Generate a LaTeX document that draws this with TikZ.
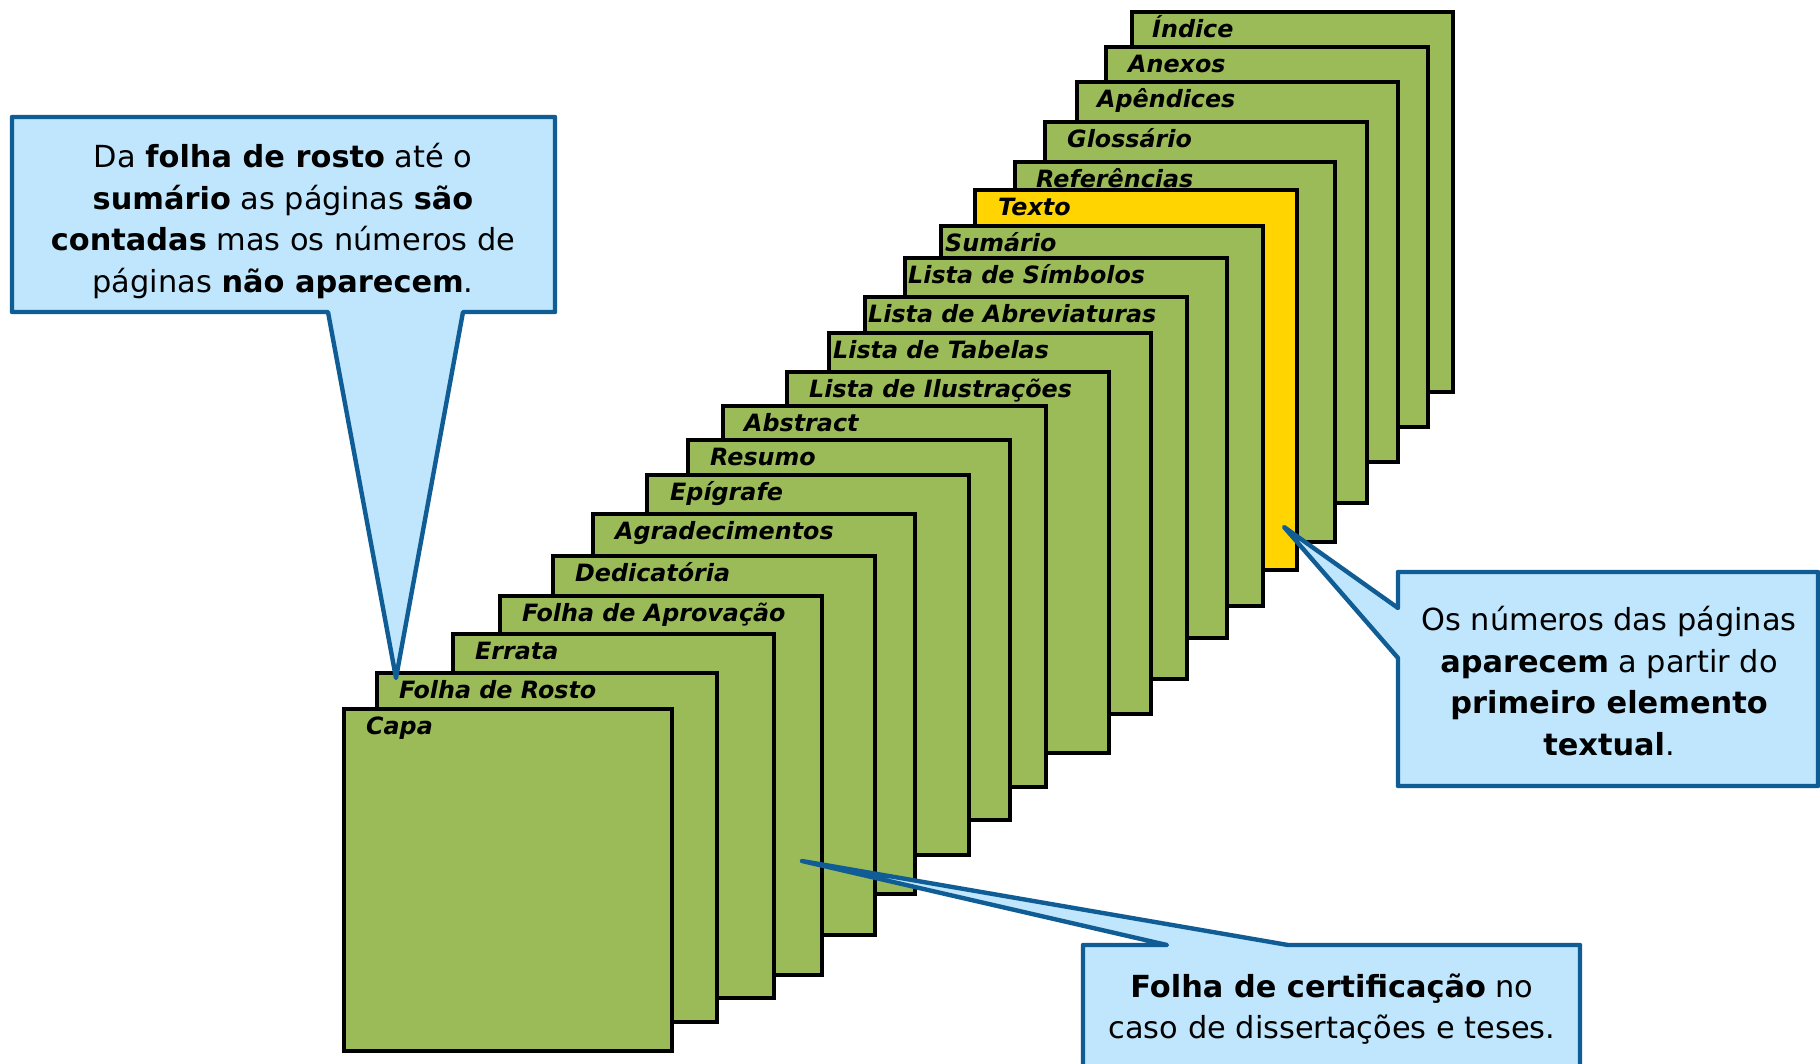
\documentclass[tikz,border=0pt]{standalone}
\usepackage{fontspec}
\setmainfont{DejaVu Sans}[BoldItalicFont={DejaVu Sans Bold Oblique}]
\definecolor{pggreen}{HTML}{9BBB59}
\definecolor{pgyellow}{HTML}{FFD400}
\definecolor{cofill}{HTML}{BFE6FC}
\definecolor{coline}{HTML}{105C94}
\tikzset{
  page/.style={rectangle, draw=black, line width=4.8pt, inner sep=0pt, outer sep=0pt},
  lbl/.style={font=\bfseries\itshape\fontsize{23.8}{28}\selectfont, inner sep=0pt, anchor=base west},
  callout/.style={draw=coline, fill=cofill, line width=4.4pt, line join=round},
  ctext/.style={font=\fontsize{30.4}{41.5}\selectfont, align=center, inner sep=0pt},
}
% #1 name, #2 L, #3 T, #4 R, #5 B, #6 label offset, #7 label, #8 fill
\newcommand\pg[8]{%
  \node[page, fill=#8, minimum width={(#4-#2)*1pt}, minimum height={(#5-#3)*1pt}]
    (#1) at ({(#2+#4)/2},{(#3+#5)/2}) {};
  \node[lbl] (#1-l) at ({#2+#6},{#3+25}) {#7};
}
\begin{document}
\begin{tikzpicture}[x=1pt,y=-1pt]
\useasboundingbox (0,0) rectangle (1820,1063);
\fill[white] (0,0) rectangle (1820,1063);
% pages, back to front
\pg{indice}{1132}{12}{1453}{392}{20}{Índice}{pggreen}
\pg{anexos}{1106}{47}{1428}{427}{22}{Anexos}{pggreen}
\pg{apend}{1077}{82}{1398}{462}{20}{Apêndices}{pggreen}
\pg{gloss}{1045}{122}{1367}{503}{22}{Glossário}{pggreen}
\pg{refer}{1015}{162}{1335}{542}{21}{Referências}{pggreen}
\pg{texto}{975}{190}{1297}{570}{23}{Texto}{pgyellow}
\pg{sumario}{941}{226}{1263}{606}{4}{Sumário}{pggreen}
\pg{simb}{905}{258}{1227}{638}{3}{Lista de Símbolos}{pggreen}
\pg{abrev}{865}{297}{1187}{679}{3}{Lista de Abreviaturas}{pggreen}
\pg{tabelas}{829}{333}{1151}{714}{4}{Lista de Tabelas}{pggreen}
\pg{ilustr}{787}{372}{1109}{753}{22}{Lista de Ilustrações}{pggreen}
\pg{abstr}{723}{406}{1046}{787}{21}{Abstract}{pggreen}
\pg{resumo}{688}{440}{1010}{820}{22}{Resumo}{pggreen}
\pg{epigr}{647}{475}{969}{855}{23}{Epígrafe}{pggreen}
\pg{agrad}{593}{514}{915}{894}{22}{Agradecimentos}{pggreen}
\pg{dedic}{553}{556}{875}{935}{22}{Dedicatória}{pggreen}
\pg{aprov}{500}{596}{822}{975}{22}{Folha de Aprovação}{pggreen}
\pg{errata}{453}{634}{774}{998}{22}{Errata}{pggreen}
\pg{rosto}{377}{673}{717}{1022}{22}{Folha de Rosto}{pggreen}
\pg{capa}{344}{709}{672}{1051}{22}{Capa}{pggreen}
% pointer tips
\coordinate (tipL) at (396,678);
\coordinate (tipR) at (1284,527);
\coordinate (tipB) at (802,861);
% left callout
\draw[callout] (12,117) -- (555,117) -- (555,312) -- (463,312) -- (tipL)
  -- (328,312) -- (12,312) -- cycle;
\node[ctext] (cL) at (283,221) {Da \textbf{folha de rosto} até o\\
  \textbf{sumário} as páginas \textbf{são}\\
  \textbf{contadas} mas os números de\\
  páginas \textbf{não aparecem}.};
% right callout
\draw[callout] (1398,572) -- (1818,572) -- (1818,786) -- (1398,786) -- (1398,658)
  -- (tipR) -- (1398,608) -- cycle;
\node[ctext] (cR) at (1609,681) {Os números das páginas\\
  \textbf{aparecem} a partir do\\
  \textbf{primeiro elemento}\\
  \textbf{textual}.};
% bottom callout
\draw[callout] (1083,945) -- (1167,945) -- (tipB) -- (1288,945) -- (1580,945)
  -- (1580,1090) -- (1083,1090) -- cycle;
\node[ctext] (cB) at (1332,1009) {\textbf{Folha de certificação} no\\
  caso de dissertações e teses.};
\end{tikzpicture}
\end{document}
